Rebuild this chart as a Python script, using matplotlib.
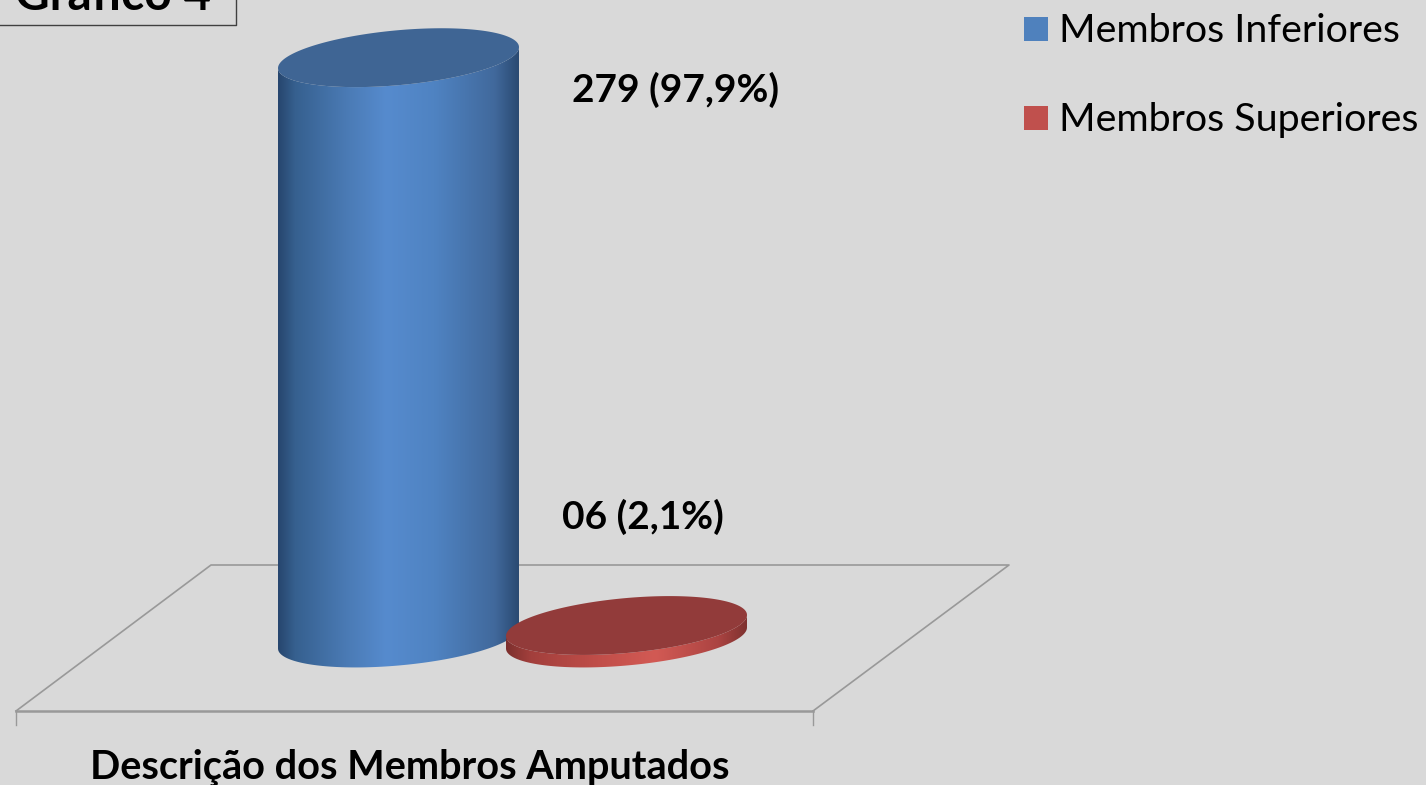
import numpy as np
import matplotlib
matplotlib.use('Agg')
from matplotlib import pyplot as plt
from matplotlib.colors import LinearSegmentedColormap
from matplotlib.patches import Polygon, Rectangle

W, H = 1426, 785
BG = '#d9d9d9'

categories = ['Membros Inferiores', 'Membros Superiores']
values = [279, 6]
labels = ['279 (97,9%)', '06 (2,1%)']
legend_colors = ['#4f81bd', '#c0504d']
top_colors = ['#3f6594', '#923b3a']
side_stops = [
    [(0.0, '#27466e'), (0.07, '#36608f'), (0.28, '#4a7ab4'), (0.45, '#568bce'),
     (0.65, '#4f83c2'), (0.9, '#41699c'), (1.0, '#2a4a72')],
    [(0.0, '#7c2f2d'), (0.1, '#a23f3c'), (0.4, '#c24f4a'), (0.62, '#d25a54'),
     (0.88, '#ac4442'), (1.0, '#7f3230')],
]

# layout, in reference pixels
centers = [398.5, 626.5]
half_w = 120.5
base_px = 638.0
px_per_unit = 2.08
half_h = 27.5
shear = 10.5

plt.rcParams['font.family'] = ['Lato', 'DejaVu Sans']
fig = plt.figure(figsize=(W / 100, H / 100), dpi=100, facecolor=BG)
ax = fig.add_axes([0, 0, 1, 1])
ax.set_axis_off()
# y runs in chart units, so bars come straight from the values
ylim = ((base_px - H) / px_per_unit, base_px / px_per_unit)


def ring(cx, v, t):
    x = cx + half_w * np.cos(t)
    y = v + (shear * np.cos(t) + half_h * np.sin(t)) / px_per_unit
    return np.column_stack([x, y])


def px(x, y):
    return x / W, 1 - y / H


# floor of the 3d chart
floor_x = [813, 1009, 211, 16]
floor_y = [711, 565, 565, 711]
fig.add_artist(plt.Line2D([x / W for x in floor_x], [1 - y / H for y in floor_y], color='#999999', lw=1.2))
fig.add_artist(plt.Line2D([16 / W, 813 / W], [1 - 711 / H, 1 - 711 / H], color='#999999', lw=1.8))
for x in [16, 813]:
    fig.add_artist(plt.Line2D([x / W, x / W], [1 - 711 / H, 1 - 725 / H], color='#999999', lw=1.0))

ax.set_zorder(2)
ax.patch.set_alpha(0)

for i in range(len(values)):
    cx, v = centers[i], values[i]
    # lower arc of the base right to left, then lower arc of the top back again
    low = ring(cx, 0, np.linspace(0, -np.pi, 100))
    up = ring(cx, v, np.linspace(np.pi, 2 * np.pi, 100))
    outline = Polygon(np.vstack([low, up]), closed=True, transform=ax.transData, fc='none', ec='none')
    ax.add_patch(outline)
    cmap = LinearSegmentedColormap.from_list('side%d' % i, side_stops[i])
    grad = np.linspace(0, 1, 256).reshape(1, -1)
    im = ax.imshow(grad, cmap=cmap, aspect='auto', zorder=3 + 2 * i, interpolation='bilinear',
                   extent=(cx - half_w, cx + half_w, ylim[0], ylim[1]))
    im.set_clip_path(outline)
    ax.add_patch(Polygon(ring(cx, v, np.linspace(0, 2 * np.pi, 200)), closed=True,
                         fc=top_colors[i], ec='none', zorder=4 + 2 * i))

ax.set_xlim(0, W)
ax.set_ylim(*ylim)

# value labels
label_pos = [(676, 102), (643, 529)]
for (x, y), s in zip(label_pos, labels):
    fig.text(*px(x, y), s, ha='center', va='baseline', fontsize=28, fontweight='bold', color='black', zorder=5)

# legend
legend_y = [29, 118]
for name, c, y in zip(categories, legend_colors, legend_y):
    fig.add_artist(Rectangle(px(1024, y + 12), 24 / W, 24 / H, transform=fig.transFigure, fc=c, ec='none'))
    fig.text(*px(1059, y + 13), name, ha='left', va='baseline', fontsize=28.4, color='black')

# axis title and the clipped box in the corner
fig.text(*px(410, 778), 'Descrição dos Membros Amputados', ha='center', va='baseline',
         fontsize=28.5, fontweight='bold', color='black')
fig.add_artist(plt.Line2D([0, 236 / W, 236 / W], [1 - 25 / H, 1 - 25 / H, 1], color='#404040', lw=1.0))
fig.text(*px(15, 10), 'Gráfico 4', ha='left', va='baseline', fontsize=34.5, fontweight='bold', color='black')

fig.savefig('out.png', dpi=100, facecolor=BG)
